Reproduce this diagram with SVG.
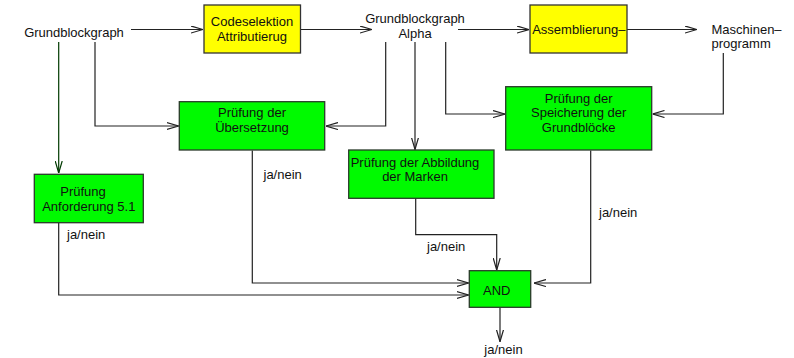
<svg xmlns="http://www.w3.org/2000/svg" width="794" height="358" viewBox="0 0 794 358">
<defs>
<marker id="arr" viewBox="0 0 12 8" refX="12" refY="4" markerWidth="12" markerHeight="8" markerUnits="userSpaceOnUse" orient="auto">
<path d="M0,0.5 L12,4 L0,7.5" fill="none" stroke="#222" stroke-width="1.2"/>
</marker>
<marker id="arrg" viewBox="0 0 12 8" refX="12" refY="4" markerWidth="12" markerHeight="8" markerUnits="userSpaceOnUse" orient="auto">
<path d="M0,0.5 L12,4 L0,7.5" fill="none" stroke="#003a00" stroke-width="1.2"/>
</marker>
</defs>
<style>
text{font-family:"Liberation Sans",Arial,sans-serif;font-size:13px;fill:#111;text-anchor:middle}
.l{text-anchor:start}
.y{fill:#ffff00;stroke:#333;stroke-width:1.3}
.g{fill:#00fa00;stroke:#2a3a2a;stroke-width:1.3}
.c{fill:none;stroke:#222;stroke-width:1.2}
.cg{fill:none;stroke:#003a00;stroke-width:1.2}
</style>
<rect width="794" height="358" fill="#fff"/>
<g id="connectors">
<path class="c" d="M131,29.5 H203" marker-end="url(#arr)"/>
<path class="c" d="M301,29.5 H372" marker-end="url(#arr)"/>
<path class="c" d="M458,29.5 H529" marker-end="url(#arr)"/>
<path class="c" d="M627,29.5 H697" marker-end="url(#arr)"/>
<path class="cg" d="M58.7,42 V173" marker-end="url(#arrg)"/>
<path class="c" d="M95,42 V126 H178.5" marker-end="url(#arr)"/>
<path class="c" d="M385.7,42 V126 H326" marker-end="url(#arr)"/>
<path class="c" d="M415,42 V149.5" marker-end="url(#arr)"/>
<path class="c" d="M445.7,42 V114 H505" marker-end="url(#arr)"/>
<path class="c" d="M723.3,53 V114 H652.5" marker-end="url(#arr)"/>
<path class="c" d="M58.7,223 V295 H468.5" marker-end="url(#arr)"/>
<path class="c" d="M252.3,150.5 V283 H468.5" marker-end="url(#arr)"/>
<path class="c" d="M415.7,198.5 V234.7 H496.7 V270" marker-end="url(#arr)"/>
<path class="c" d="M590.7,150.5 V283 H534" marker-end="url(#arr)"/>
<path class="c" d="M500,307.5 V341.7" marker-end="url(#arr)"/>
</g>
<g id="grundblockgraph"><text x="74" y="36.5">Grundblockgraph</text></g>
<g id="codeselektion">
<rect class="y" x="204" y="5" width="96.5" height="48"/>
<text x="252" y="26">Codeselektion</text>
<text x="252" y="41">Attributierug</text>
</g>
<g id="alpha">
<text x="415" y="22.5">Grundblockgraph</text>
<text x="415" y="38">Alpha</text>
</g>
<g id="assemblierung">
<rect class="y" x="530" y="5" width="97" height="48"/>
<text x="578.8" y="34">Assemblierung–</text>
</g>
<g id="maschinenprogramm">
<text class="l" x="711.5" y="34">Maschinen–</text>
<text class="l" x="711.5" y="48">programm</text>
</g>
<g id="uebersetzung">
<rect class="g" x="179.3" y="101.7" width="145.4" height="48.3"/>
<text x="252" y="117">Prüfung der</text>
<text x="252" y="131.5">Übersetzung</text>
</g>
<g id="speicherung">
<rect class="g" x="505.7" y="86.7" width="146" height="63.3"/>
<text x="578.7" y="102.5">Prüfung der</text>
<text x="578.7" y="117">Speicherung der</text>
<text x="578.7" y="131.5">Grundblöcke</text>
</g>
<g id="marken">
<rect class="g" x="348.7" y="150" width="145.3" height="48.3"/>
<text x="415" y="166.5">Prüfung der Abbildung</text>
<text x="415" y="181">der Marken</text>
</g>
<g id="anforderung">
<rect class="g" x="34.3" y="174.3" width="109" height="48.4"/>
<text x="83" y="196">Prüfung</text>
<text x="88.8" y="211">Anforderung 5.1</text>
</g>
<g id="and">
<rect class="g" x="469.3" y="270.7" width="61.4" height="36.6"/>
<text x="496.8" y="294.5">AND</text>
</g>
<g id="labels">
<text class="l" x="67" y="238.5">ja/nein</text>
<text class="l" x="263.5" y="178.5">ja/nein</text>
<text class="l" x="427" y="250.5">ja/nein</text>
<text class="l" x="599" y="217">ja/nein</text>
<text x="503.5" y="353.5">ja/nein</text>
</g>
</svg>
